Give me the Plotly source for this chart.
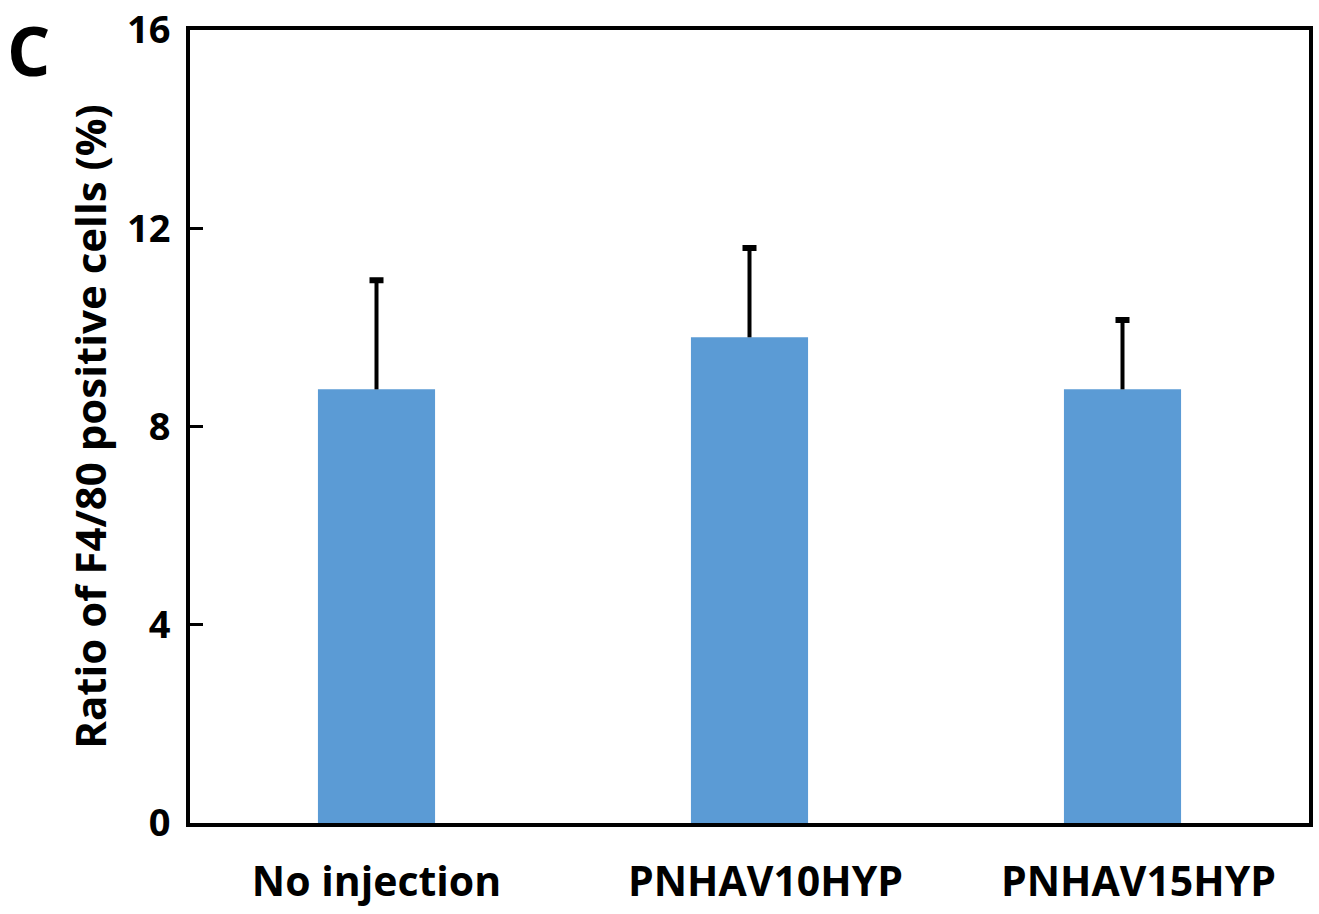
import plotly.graph_objects as go

# Percentage of F4/80-positive cells per treatment group
categories = ["No injection", "PNHAV10HYP", "PNHAV15HYP"]
category_labels = ["No injection", "\u00a0\u00a0\u00a0PNHAV10HYP", "\u00a0\u00a0\u00a0PNHAV15HYP"]
ratio_mean = [8.75, 9.8, 8.75]
ratio_err = [2.2, 1.8, 1.4]
y_ticks = [0, 4, 8, 12, 16]

FONT = "Open Sans"
BAR_COLOR = "#5B9BD5"

fig = go.Figure()
fig.add_trace(go.Bar(
    x=categories,
    y=ratio_mean,
    width=0.314,
    marker=dict(color=BAR_COLOR, line=dict(width=0)),
))

# upper-only error bars: a stem from the bar top plus a cap at mean + error
stem_x, stem_y = [], []
for c, m, e in zip(categories, ratio_mean, ratio_err):
    stem_x += [c, c, None]
    stem_y += [m, m + e, None]
fig.add_trace(go.Scatter(
    x=stem_x, y=stem_y, mode="lines",
    line=dict(color="black", width=4),
    hoverinfo="skip",
))
fig.add_trace(go.Scatter(
    x=categories,
    y=[m + e for m, e in zip(ratio_mean, ratio_err)],
    mode="markers",
    marker=dict(size=1, color="black"),
    error_y=dict(type="constant", value=0, color="black", thickness=6, width=7),
    hoverinfo="skip",
))

fig.update_layout(
    width=1319,
    height=914,
    margin=dict(l=190, r=10, t=30, b=91),
    paper_bgcolor="white",
    plot_bgcolor="white",
    showlegend=False,
    font=dict(family=FONT, color="black"),
    xaxis=dict(
        automargin=False,
        tickvals=categories, ticktext=category_labels,
        showline=True, linecolor="black", linewidth=4, mirror=True,
        ticks="", showgrid=False,
        tickfont=dict(family=FONT, size=41, weight="bold"),
        ticklabelstandoff=20,
    ),
    yaxis=dict(
        automargin=False,
        range=[0, 16],
        tickvals=y_ticks,
        showline=True, linecolor="black", linewidth=4, mirror=True,
        ticks="inside", ticklen=13, tickwidth=3, tickcolor="black",
        showgrid=False, zeroline=False,
        tickfont=dict(family=FONT, size=38, weight="bold"),
        ticklabelstandoff=8,
        title=dict(text="Ratio of F4/80 positive cells (%)",
                   font=dict(family=FONT, size=42, weight="bold"),
                   standoff=8),
    ),
)

fig.add_annotation(
    text="<b>C</b>", xref="paper", yref="paper",
    x=-0.1439, y=1.035, xanchor="center", yanchor="top",
    showarrow=False, borderpad=0,
    font=dict(family=FONT, size=68, color="black"),
)

fig.write_html("out.html")
